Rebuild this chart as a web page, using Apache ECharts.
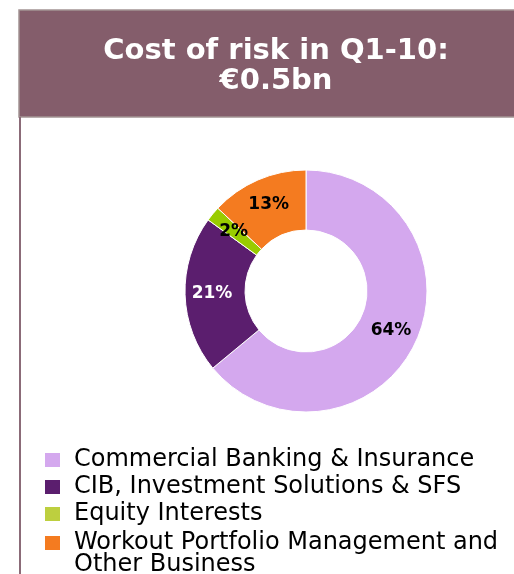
<!DOCTYPE html>
<html>
<head>
<meta charset="utf-8">
<script src="https://cdn.jsdelivr.net/npm/echarts@6/dist/echarts.min.js"></script>
<style>
  html, body { margin: 0; padding: 0; background: #fff; }
  #chart { width: 514px; height: 574px; }
</style>
</head>
<body>
<div id="chart"></div>
<script>
const titleText = 'Cost of risk in Q1-10:\n€0.5bn';
const segments = ['Commercial Banking & Insurance', 'CIB, Investment Solutions & SFS', 'Equity Interests', 'Workout Portfolio Management and\nOther Business'];
const shares = [64, 21, 2, 13];
const sliceColors = ['#D4A8EE', '#5B1E6E', '#99CC00', '#F47B20'];
const labelColors = ['#000', '#fff', '#000', '#000'];
const legendColors = ['#D4A8EE', '#5B1E6E', '#BDCF3F', '#F47B20'];

const font = '"DejaVu Sans", Verdana, sans-serif';
const chart = echarts.init(document.getElementById('chart'));

const pieData = segments.map(function (name, i) {
    return {
        name: name,
        value: shares[i],
        itemStyle: { color: sliceColors[i] },
        label: { color: labelColors[i] }
    };
});

// legend entries use their own swatch colours
const legendItem = function (i) {
    return { name: segments[i], itemStyle: { color: legendColors[i], borderWidth: 0 } };
};

const option = {
    animation: false,
    graphic: [
        { type: 'rect', shape: { x: 19, y: 10, width: 500, height: 107 },
          style: { fill: '#845D6B', stroke: '#A39494', lineWidth: 1.5 } },
        { type: 'line', shape: { x1: 20, y1: 117, x2: 20, y2: 574 },
          style: { stroke: '#8B6B78', lineWidth: 2 } },
        { type: 'text', x: 276, y: 66,
          style: { text: titleText, fill: '#fff', font: 'bold 29px ' + font,
                   lineHeight: 30, align: 'center', verticalAlign: 'middle' } }
    ],
    legend: [
        {
            orient: 'vertical', left: 40, top: 442,
            itemWidth: 15, itemHeight: 14, itemGap: 1, icon: 'rect',
            data: [legendItem(0), legendItem(1), legendItem(2)],
            textStyle: { fontFamily: font, fontSize: 24, color: '#000', lineHeight: 26, padding: [0, 0, 0, 9] },
            selectedMode: false
        },
        {
            // swatch sits beside the first line of the two-line name
            orient: 'vertical', left: 40, top: 526,
            itemWidth: 15, itemHeight: 36,
            icon: 'path://M0,0L15,0L15,14L0,14Z M0,36',
            data: [legendItem(3)],
            textStyle: { fontFamily: font, fontSize: 24, color: '#000', lineHeight: 22, padding: [0, 0, 0, 9] },
            selectedMode: false
        }
    ],
    series: [{
        type: 'pie',
        center: [306, 291],
        radius: [61, 121],
        startAngle: 90,
        clockwise: true,
        data: pieData,
        itemStyle: { borderColor: '#fff', borderWidth: 1 },
        label: {
            show: true, position: 'inside',
            formatter: '{c}%',
            fontFamily: font, fontWeight: 'bold', fontSize: 17
        },
        labelLine: { show: false },
        emphasis: { disabled: true }
    }]
};

chart.setOption(option);
</script>
</body>
</html>
